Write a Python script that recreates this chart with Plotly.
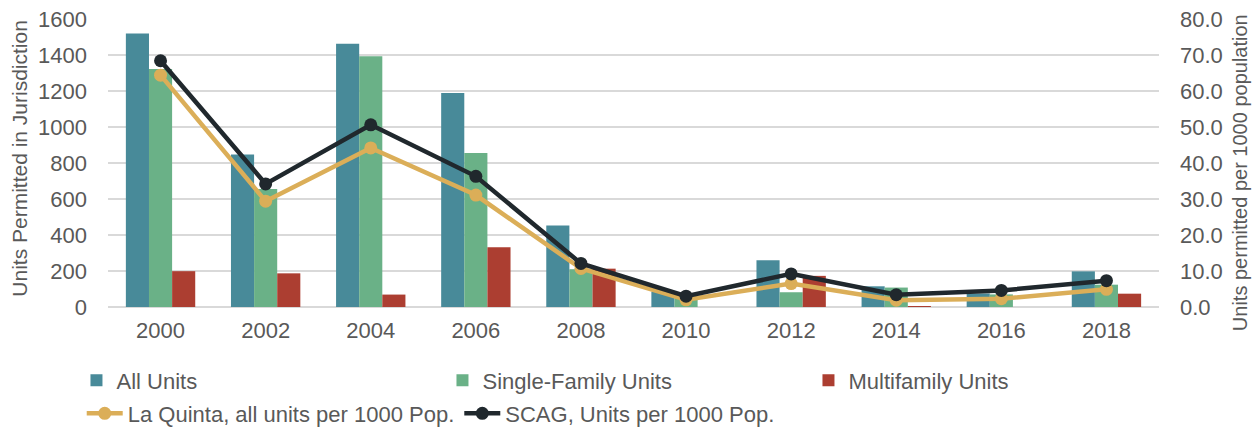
import plotly.graph_objects as go

years = ["2000", "2002", "2004", "2006", "2008", "2010", "2012", "2014", "2016", "2018"]
all_units = [1520, 847, 1463, 1189, 453, 85, 260, 115, 75, 198]
single_family = [1322, 655, 1393, 855, 210, 50, 82, 108, 70, 124]
multifamily = [199, 187, 69, 332, 213, 0, 173, 4, 0, 74]
la_quinta_rate = [64.4, 29.4, 44.2, 31.1, 10.7, 2.0, 6.5, 1.9, 2.3, 4.9]
scag_rate = [68.4, 34.2, 50.6, 36.3, 12.1, 3.0, 9.2, 3.4, 4.6, 7.3]

left_title = "Units Permitted in Jurisdiction"
right_title = "Units permitted per 1000 population"

FONT = "Liberation Sans, Arial, sans-serif"
TXT = "#595959"

fig = go.Figure()
fig.add_trace(go.Bar(x=years, y=all_units, name="All Units", marker_color="#488A99",
                     marker_line_width=0, legend="legend"))
fig.add_trace(go.Bar(x=years, y=single_family, name="Single-Family Units", marker_color="#6AB187",
                     marker_line_width=0, legend="legend"))
fig.add_trace(go.Bar(x=years, y=multifamily, name="Multifamily Units", marker_color="#AC3E31",
                     marker_line_width=0, legend="legend"))
fig.add_trace(go.Scatter(x=years, y=la_quinta_rate, name="La Quinta, all units per 1000 Pop.",
                         mode="lines+markers", yaxis="y2", line=dict(color="#DBAE58", width=4.5),
                         marker=dict(size=13, color="#DBAE58"), legend="legend2"))
fig.add_trace(go.Scatter(x=years, y=scag_rate, name="SCAG, Units per 1000 Pop.",
                         mode="lines+markers", yaxis="y2", line=dict(color="#20282D", width=4.5),
                         marker=dict(size=13, color="#20282D"), legend="legend2"))

fig.update_layout(
    width=1260, height=432,
    margin=dict(l=100, r=109, t=11, b=133, autoexpand=False),
    paper_bgcolor="white", plot_bgcolor="white",
    font=dict(family=FONT, size=22, color=TXT),
    barmode="group", bargap=0.34, bargroupgap=0,
    xaxis=dict(type="category", range=[-0.5, len(years) - 0.5], showgrid=False, showline=False,
               ticks="", automargin=False, ticklabelstandoff=8, tickfont=dict(size=22, color=TXT)),
    yaxis=dict(range=[0, 1600], dtick=200, showgrid=True, gridcolor="#D9D9D9", gridwidth=1.5,
               zeroline=True, zerolinecolor="#D9D9D9", zerolinewidth=1.5, automargin=False,
               tickfont=dict(size=22, color=TXT), ticks="", ticklabelstandoff=20,
               ticklabeloverflow="allow"),
    yaxis2=dict(range=[0, 80], dtick=10, tickformat=".1f", overlaying="y", side="right",
                showgrid=False, zeroline=False, ticks="", ticklabelstandoff=20, automargin=False,
                tickfont=dict(size=22, color=TXT), ticklabeloverflow="allow"),
    legend=dict(orientation="h", x=-0.030, y=-0.255, xanchor="left", yanchor="middle",
                entrywidth=321, entrywidthmode="pixels", font=dict(size=22, color=TXT),
                bgcolor="rgba(0,0,0,0)", traceorder="normal"),
    legend2=dict(orientation="h", x=-0.025, y=-0.37, xanchor="left", yanchor="middle",
                 font=dict(size=22, color=TXT), bgcolor="rgba(0,0,0,0)", traceorder="normal",
                 itemwidth=36),
    annotations=[
        dict(text=left_title, textangle=-90, xref="paper", yref="paper", x=-0.0837, y=0.515,
             xanchor="center", yanchor="middle", showarrow=False,
             font=dict(size=21, color=TXT)),
        dict(text=right_title, textangle=-90, xref="paper", yref="paper", x=1.077, y=0.468,
             xanchor="center", yanchor="middle", showarrow=False,
             font=dict(size=20, color=TXT)),
    ],
)

fig.write_html("out.html")
